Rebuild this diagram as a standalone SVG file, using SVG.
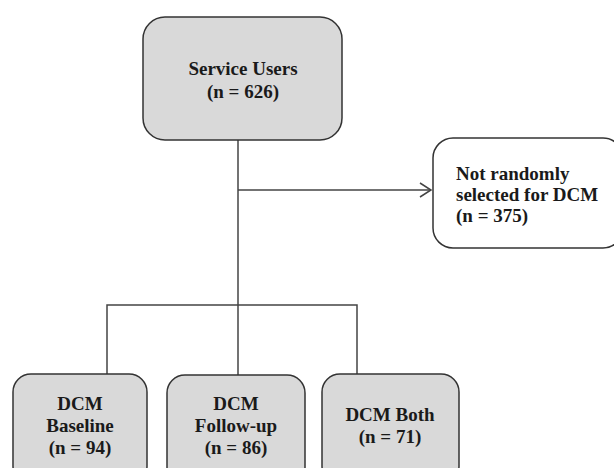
<svg xmlns="http://www.w3.org/2000/svg" width="614" height="468" viewBox="0 0 614 468">
<style>
.box{fill:#d9d9d9;stroke:#333;stroke-width:1.5}
.wbox{fill:#fff;stroke:#333;stroke-width:1.5}
.ln{fill:none;stroke:#444;stroke-width:1.5}
text{font-family:"Liberation Serif","Times New Roman",serif;font-weight:bold;font-size:19px;fill:#1a1a1a}
.c{text-anchor:middle}
</style>
<defs>
<marker id="arr" markerWidth="14" markerHeight="16" refX="12" refY="8" orient="auto" markerUnits="userSpaceOnUse">
<path d="M1,1 L12,8 L1,15" fill="none" stroke="#444" stroke-width="1.5"/>
</marker>
</defs>
<g id="connectors">
<path class="ln" d="M238,140 V375"/>
<path class="ln" d="M238,190 H431" marker-end="url(#arr)"/>
<path class="ln" d="M107,375 V305 H357 V375"/>
</g>
<g id="service-users">
<rect class="box" x="143" y="17" width="199" height="123" rx="22"/>
<text class="c" x="243" y="75">Service Users</text>
<text class="c" x="243" y="98">(n = 626)</text>
</g>
<g id="not-selected">
<rect class="wbox" x="433" y="138" width="190" height="110" rx="20"/>
<text x="456" y="180">Not randomly</text>
<text x="456" y="201">selected for DCM</text>
<text x="456" y="222">(n = 375)</text>
</g>
<g id="dcm-baseline">
<rect class="box" x="13" y="374" width="134" height="110" rx="18"/>
<text class="c" x="80" y="410">DCM</text>
<text class="c" x="80" y="432">Baseline</text>
<text class="c" x="80" y="454">(n = 94)</text>
</g>
<g id="dcm-followup">
<rect class="box" x="167" y="375" width="138" height="110" rx="18"/>
<text class="c" x="236" y="410">DCM</text>
<text class="c" x="236" y="432">Follow-up</text>
<text class="c" x="236" y="454">(n = 86)</text>
</g>
<g id="dcm-both">
<rect class="box" x="322" y="374" width="137" height="110" rx="18"/>
<text class="c" x="390" y="421">DCM Both</text>
<text class="c" x="390" y="443">(n = 71)</text>
</g>
</svg>
